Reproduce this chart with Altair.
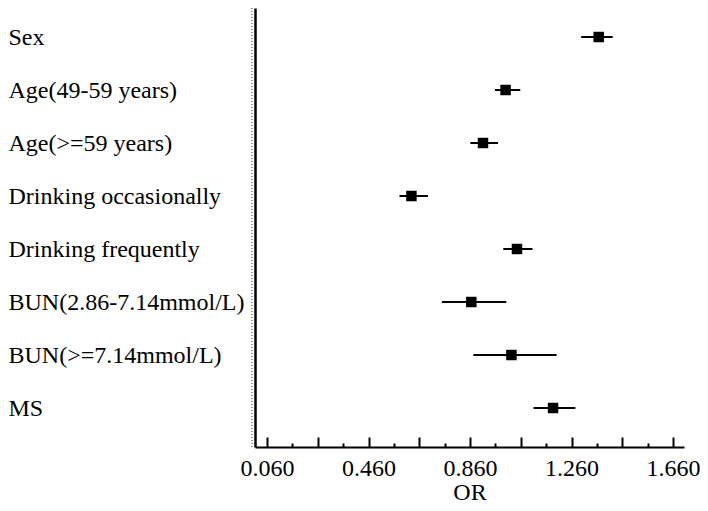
import altair as alt
import pandas as pd

labels = ["Sex", "Age(49-59 years)", "Age(>=59 years)", "Drinking occasionally",
          "Drinking frequently", "BUN(2.86-7.14mmol/L)", "BUN(>=7.14mmol/L)", "MS"]
or_vals = [1.367, 1.000, 0.911, 0.629, 1.045, 0.865, 1.023, 1.187]
ci_low = [1.298, 0.958, 0.861, 0.582, 0.991, 0.749, 0.873, 1.110]
ci_high = [1.422, 1.058, 0.970, 0.694, 1.106, 1.003, 1.201, 1.275]

label_ticks = [0.06, 0.46, 0.86, 1.26, 1.66]
all_ticks = [0.06, 0.16, 0.26, 0.36, 0.46, 0.56, 0.66, 0.76, 0.86, 0.96,
             1.06, 1.16, 1.26, 1.36, 1.46, 1.56, 1.66]
x_domain = [0.0127, 1.703]

df = pd.DataFrame({"label": labels, "or": or_vals, "lo": ci_low, "hi": ci_high})

FONT = "Liberation Serif"
W, H = 429, 439

xscale = alt.Scale(domain=x_domain, nice=False, zero=False)
yscale = alt.Scale(type="point", domain=labels, padding=0.6415, align=0.4265)

bottom_axis = alt.Axis(values=label_ticks, format=".3f", ticks=False, tickSize=0,
                       labelPadding=9, labelFont=FONT, labelFontSize=24,
                       labelColor="black", domainColor="black", domainWidth=2,
                       grid=False, titleFont=FONT, titleFontSize=24,
                       titleFontWeight="normal", titleColor="black", titlePadding=0)

top_axis = alt.Axis(orient="top", offset=-H, values=all_ticks, labels=False,
                    domain=False, grid=False, tickColor="black", tickWidth=2,
                    tickSize={"condition": {"test": "round((datum.value - 0.06) * 10) % 2 == 0",
                                            "value": 10}, "value": 4},
                    title=None)

y_axis = alt.Axis(orient="left", ticks=False, tickSize=0, labelAlign="left",
                  labelBaseline="middle", labelPadding=247, labelLimit=400,
                  labelFont=FONT, labelFontSize=24, labelColor="black",
                  domainColor="black", domainWidth=2.5, grid=False, title=None)

base = alt.Chart(df)

whiskers = base.mark_rule(color="black", strokeWidth=2).encode(
    x=alt.X("lo:Q", scale=xscale, axis=bottom_axis, title="OR"),
    x2="hi:Q",
    y=alt.Y("label:N", scale=yscale, axis=y_axis, sort=labels),
)

squares = base.mark_square(color="black", opacity=1, size=110).encode(
    x=alt.X("or:Q", scale=xscale, axis=top_axis),
    y=alt.Y("label:N", scale=yscale, sort=labels),
)

dash = base.mark_rule(color="#9a9a9a", strokeWidth=2, strokeDash=[1, 2], xOffset=-3).encode(
    x=alt.datum(x_domain[0], scale=xscale, axis=None),
)

chart = alt.layer(dash, whiskers, squares).resolve_axis(x="independent").properties(
    width=W, height=H,
    autosize=alt.AutoSizeParams(type="none"),
    padding={"left": 247, "top": 0, "right": 16, "bottom": 56},
).configure_view(stroke=None)

chart.save("out.html", embed_options={"renderer": "svg", "actions": False})
